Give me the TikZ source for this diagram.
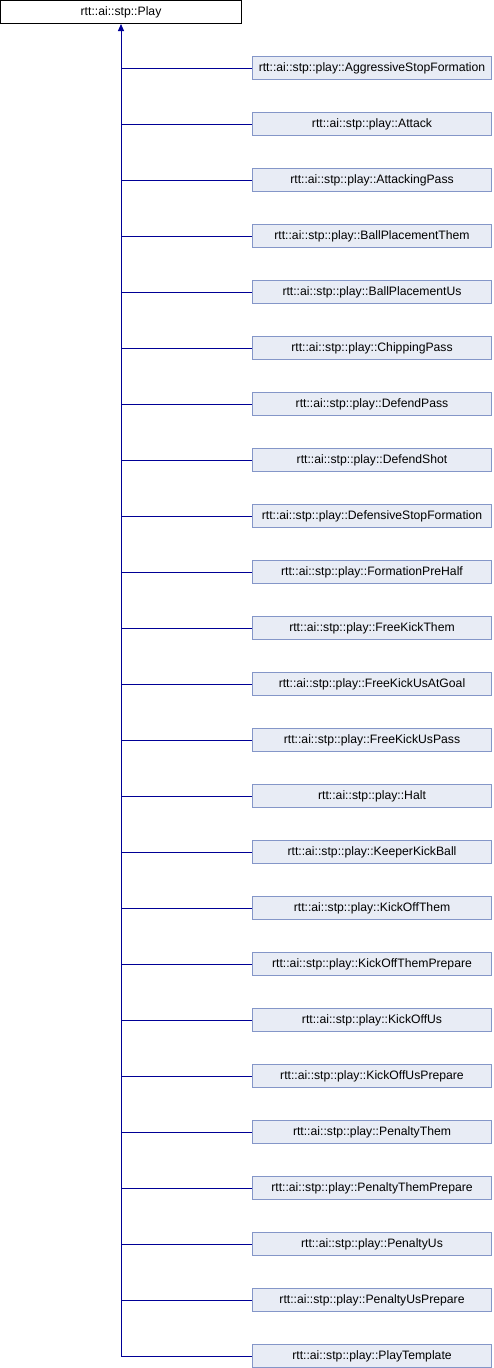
\documentclass[tikz,border=0pt]{standalone}
\usepackage{fontspec}
\setmainfont{Liberation Sans}
\usetikzlibrary{arrows.meta}
\definecolor{edgeblue}{RGB}{0,0,150}
\definecolor{childfill}{RGB}{232,236,245}
\definecolor{childborder}{RGB}{132,150,200}
\tikzset{
  base/.style={draw=black, fill=white, line width=1pt, minimum width=241pt, minimum height=23pt, inner sep=0pt, font=\fontsize{12.2}{14}\selectfont},
  derived/.style={draw=childborder, fill=childfill, line width=1pt, minimum width=239pt, minimum height=23pt, inner sep=0pt, font=\fontsize{12.2}{14}\selectfont},
  inherit/.style={draw=edgeblue, line width=1pt},
}
\begin{document}
\begin{tikzpicture}[x=1pt,y=-1pt]
\useasboundingbox (0,0) rectangle (494,1368);
\node[base] (p) at (121,12) {rtt::ai::stp::Play};
\foreach \name [count=\i from 0] in {AggressiveStopFormation,Attack,AttackingPass,BallPlacementThem,BallPlacementUs,ChippingPass,DefendPass,DefendShot,DefensiveStopFormation,FormationPreHalf,FreeKickThem,FreeKickUsAtGoal,FreeKickUsPass,Halt,KeeperKickBall,KickOffThem,KickOffThemPrepare,KickOffUs,KickOffUsPrepare,PenaltyThem,PenaltyThemPrepare,PenaltyUs,PenaltyUsPrepare,PlayTemplate}{
  \node[derived] (c\i) at (372,{68+56*\i}) {rtt::ai::stp::play::\name};
  \draw[inherit] (c\i.west -| p.south) -- (c\i.west);
}
\draw[inherit, {Triangle[width=6pt,length=7pt]}-] (p.south) -- (p.south |- c23.west);
\end{tikzpicture}
\end{document}
